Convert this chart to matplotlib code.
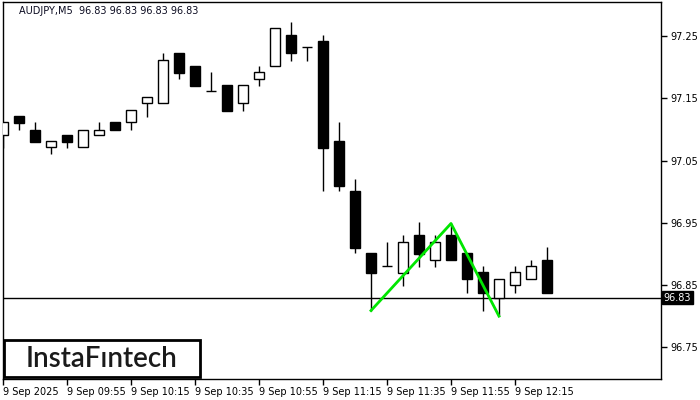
import matplotlib
matplotlib.use('Agg')
import matplotlib.pyplot as plt
import matplotlib.transforms as mtransforms
from matplotlib.patches import Rectangle

# AUDJPY M5 candles, 09:35 .. 12:25
opens = [97.091, 97.121, 97.100, 97.072, 97.091, 97.072, 97.091, 97.112, 97.112, 97.142,
         97.142, 97.223, 97.202, 97.162, 97.171, 97.142, 97.182, 97.202, 97.252, 97.232,
         97.242, 97.081, 97.001, 96.901, 96.880, 96.869, 96.930, 96.890, 96.930, 96.901,
         96.871, 96.830, 96.850, 96.859, 96.890]
highs = [97.112, 97.121, 97.112, 97.081, 97.091, 97.100, 97.112, 97.112, 97.131, 97.152,
         97.223, 97.223, 97.202, 97.192, 97.171, 97.171, 97.202, 97.263, 97.273, 97.232,
         97.252, 97.112, 97.020, 96.901, 96.920, 96.930, 96.951, 96.930, 96.949, 96.901,
         96.880, 96.859, 96.880, 96.890, 96.911]
lows = [97.070, 97.099, 97.080, 97.060, 97.070, 97.072, 97.091, 97.099, 97.099, 97.120,
        97.142, 97.181, 97.170, 97.162, 97.129, 97.129, 97.170, 97.202, 97.210, 97.210,
        97.001, 97.001, 96.901, 96.809, 96.880, 96.848, 96.879, 96.879, 96.890, 96.838,
        96.808, 96.801, 96.838, 96.859, 96.838]
closes = [97.112, 97.110, 97.080, 97.081, 97.080, 97.100, 97.100, 97.099, 97.131, 97.152,
          97.211, 97.191, 97.170, 97.162, 97.129, 97.171, 97.192, 97.263, 97.223, 97.232,
          97.070, 97.009, 96.909, 96.869, 96.880, 96.920, 96.900, 96.920, 96.890, 96.859,
          96.838, 96.859, 96.871, 96.880, 96.838]

# double top pattern line (bar index, price)
pattern_x = [23, 28, 31]
pattern_y = [96.809, 96.949, 96.800]

last_price = 96.83
tick_pos = [0, 4, 8, 12, 16, 20, 24, 28, 32]
tick_labels = ['9 Sep 2025', '9 Sep 09:55', '9 Sep 10:15', '9 Sep 10:35', '9 Sep 10:55',
               '9 Sep 11:15', '9 Sep 11:35', '9 Sep 11:55', '9 Sep 12:15']
price_ticks = [96.75, 96.85, 96.95, 97.05, 97.15, 97.25]

W, H = 700, 400
fig = plt.figure(figsize=(7, 4), dpi=100)
ax = fig.add_axes([3 / W, 1 - 379 / H, 658 / W, 377 / H])

xs = list(range(len(opens)))
ax.vlines(xs, lows, highs, color='black', linewidth=1, zorder=2)
for i in xs:
    o, c = opens[i], closes[i]
    fc = 'white' if c >= o else 'black'
    ax.add_patch(Rectangle((i - 0.34, min(o, c)), 0.68, abs(c - o), facecolor=fc,
                           edgecolor='black', linewidth=1, zorder=3))

ax.plot(pattern_x, pattern_y, color='#00e600', linewidth=2, zorder=4)
ax.axhline(last_price, color='black', linewidth=1, zorder=1)

ax.set_xlim(0, 41.125)
ax.set_ylim(96.699, 97.305)

ax.yaxis.tick_right()
ax.set_yticks(price_ticks)
ax.set_yticklabels(['%.2f' % p for p in price_ticks])
ax.set_xticks(tick_pos)
ax.set_xticklabels(tick_labels, ha='left')
ax.tick_params(axis='both', direction='out', length=4, width=1, labelsize=7, pad=2)
ax.tick_params(axis='y', pad=3)
for s in ax.spines.values():
    s.set_linewidth(1)

trans = mtransforms.blended_transform_factory(ax.transAxes, ax.transData)
ax.text(1.004, last_price, '%.2f' % last_price, transform=trans, color='white', fontsize=7,
        va='center', ha='left',
        bbox=dict(boxstyle='square,pad=0.15', facecolor='black', edgecolor='black'))

fig.text(19 / W, 1 - 11 / H, 'AUDJPY,M5  96.83 96.83 96.83 96.83', fontsize=7,
         color='#0a0a20', va='center', ha='left')

fig.patches.append(Rectangle((4 / W, 1 - 377 / H), 196 / W, 37 / H, transform=fig.transFigure,
                             facecolor='white', edgecolor='black', linewidth=2, zorder=5))
fig.text(102 / W, 1 - 359 / H, 'InstaF\u0131ntech', fontsize=20, family='Lato',
         fontweight='semibold', color='#1a1a1a', ha='center', va='center', zorder=6)

fig.savefig('out.png', dpi=100)
